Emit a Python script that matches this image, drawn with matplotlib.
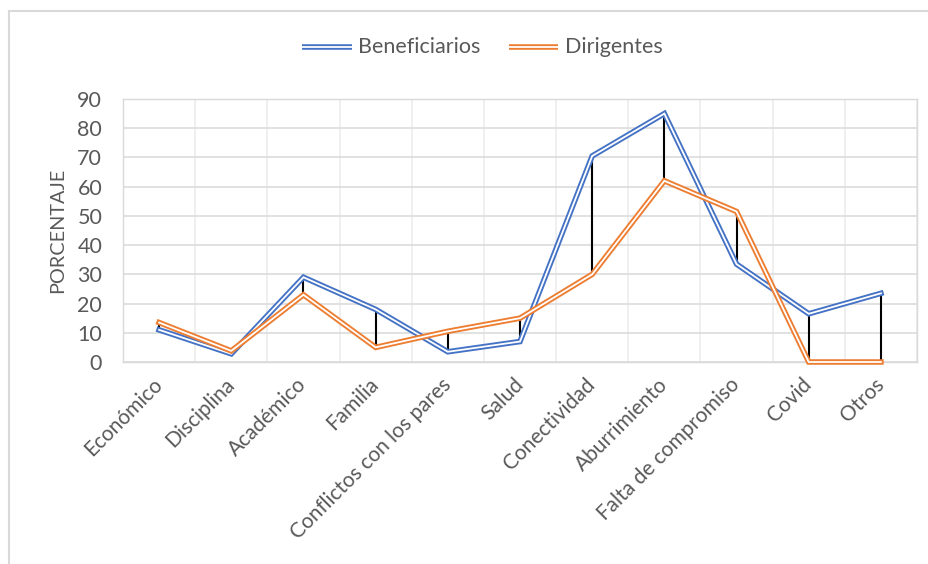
import matplotlib
matplotlib.use("Agg")
import matplotlib.pyplot as plt
from matplotlib.lines import Line2D
from matplotlib.patches import Rectangle
import numpy as np

categories = ["Económico", "Disciplina", "Académico", "Familia",
              "Conflictos con los pares", "Salud", "Conectividad",
              "Aburrimiento", "Falta de compromiso", "Covid", "Otros"]
beneficiarios = [11, 2.8, 29, 18, 3.5, 7, 70.5, 85, 33.5, 16.5, 23.5]
dirigentes = [13.5, 3.8, 23, 5, 10.5, 15, 30, 62, 51.5, 0, 0]
yticks = [0, 10, 20, 30, 40, 50, 60, 70, 80, 90]
series_names = ["Beneficiarios", "Dirigentes"]

BLUE = "#4472C4"
ORANGE = "#ED7D31"
TXT = "#595959"

plt.rcParams['font.family'] = ['Lato', 'DejaVu Sans']

W, H = 929, 564
fig = plt.figure(figsize=(W/100, H/100), dpi=100)
ax = fig.add_axes([123/W, 1-362/H, (917-123)/W, (362-99)/H])

x = np.arange(len(categories))

# high-low lines
lo = np.minimum(beneficiarios, dirigentes)
hi = np.maximum(beneficiarios, dirigentes)
ax.vlines(x, lo, hi, color="black", lw=1.5, zorder=2)

OUT = 4.0
INN = 1.3
ax.plot(x, beneficiarios, color=BLUE, lw=OUT, zorder=3, solid_joinstyle='miter', clip_on=False)
ax.plot(x, beneficiarios, color="white", lw=INN, zorder=3.1, solid_joinstyle='miter', clip_on=False)
ax.plot(x, dirigentes, color=ORANGE, lw=OUT, zorder=3.2, solid_joinstyle='miter', clip_on=False)
ax.plot(x, dirigentes, color="white", lw=INN, zorder=3.3, solid_joinstyle='miter', clip_on=False)

ax.set_xlim(-0.5, len(categories) - 0.5)
ax.set_ylim(0, 90)
ax.set_yticks(yticks)
ax.set_xticks(x)
ax.set_xticks(np.arange(len(categories) + 1) - 0.5, minor=True)
ax.set_xticklabels(categories, rotation=45, ha='right', va='center',
                   rotation_mode='anchor', fontsize=15, color=TXT)
ax.tick_params(axis='x', which='both', length=0, pad=14)
ax.tick_params(axis='y', length=0, pad=15, labelsize=15.5, labelcolor=TXT)

ax.grid(axis='y', color="#d9d9d9", lw=1.1, zorder=0)
ax.grid(axis='x', which='minor', color="#efefef", lw=1.4, zorder=0)
ax.grid(axis='x', which='major', visible=False)
ax.set_axisbelow(True)
for s in ax.spines.values():
    s.set_color("#d9d9d9")
    s.set_linewidth(1.0)

ax.set_ylabel("PORCENTAJE", fontsize=14.3, color=TXT, labelpad=8)

# legend drawn as double-line handles
ly = 1 - 47/H
for (x0, x1, tx), col, name in zip([(302, 352, 358), (509, 558, 565)],
                                   [BLUE, ORANGE], series_names):
    fig.add_artist(Line2D([x0/W, x1/W], [ly, ly], transform=fig.transFigure,
                          color=col, lw=OUT, solid_capstyle='butt'))
    fig.add_artist(Line2D([x0/W, x1/W], [ly, ly], transform=fig.transFigure,
                          color="white", lw=INN, solid_capstyle='butt'))
    fig.text(tx/W, ly, name, ha='left', va='center', fontsize=15.5, color=TXT)

fig.patches.append(Rectangle((9/W, -0.05), 1.1, 1-11/H+0.05,
                             transform=fig.transFigure, fill=False,
                             edgecolor="#d9d9d9", lw=1.5))

fig.savefig("out.png", dpi=100, facecolor="white")
